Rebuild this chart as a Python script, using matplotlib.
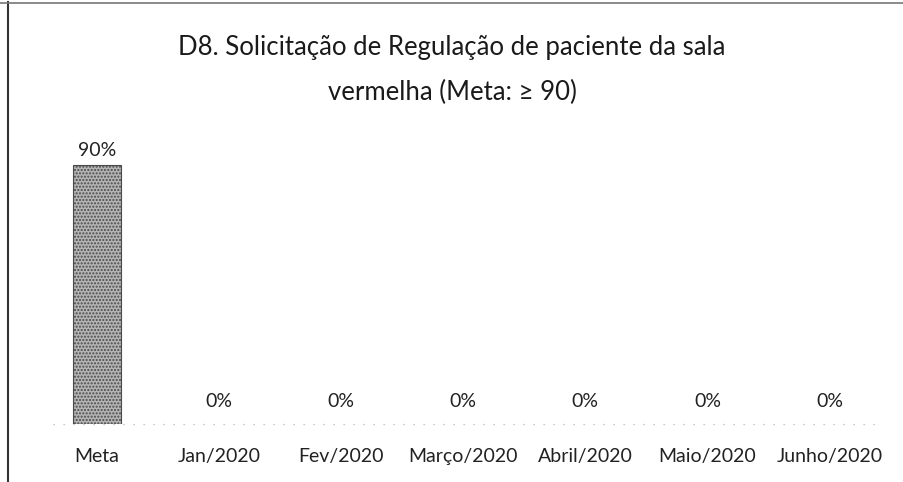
import matplotlib.pyplot as plt
from matplotlib.lines import Line2D

categories = ['Meta', 'Jan/2020', 'Fev/2020', 'Março/2020', 'Abril/2020', 'Maio/2020', 'Junho/2020']
values = [90, 0, 0, 0, 0, 0, 0]
title = 'D8. Solicitação de Regulação de paciente da sala\nvermelha (Meta: ≥ 90)'

plt.rcParams['font.family'] = ['Lato', 'DejaVu Sans']
plt.rcParams['hatch.color'] = '#8a8a8a'

fig = plt.figure(figsize=(9.04, 4.82), dpi=100)
ax = fig.add_axes([0.040, 0.120, 0.945, 0.598])

x = range(len(categories))
lw = [0.8 if v > 0 else 0 for v in values]
ax.bar(x, values, width=0.39, color='#b4b4b4', edgecolor='#4a4a4a', linewidth=lw,
       hatch='.....', zorder=2)

for i, v in enumerate(values):
    off = 4 if v > 0 else 10
    ax.annotate(f'{v}%', (i, v), xytext=(0, off), textcoords='offset points',
                ha='center', va='bottom', fontsize=14, color='#222222')

ax.set_xlim(-0.5, len(categories) - 0.5)
ax.set_ylim(0, 100)
ax.axhline(0, xmin=0.02, xmax=0.99, color='#b4b4b4', linewidth=0.9,
           linestyle=(0, (1, 7)), zorder=1, clip_on=False)
ax.set_xticks(list(x))
ax.set_xticklabels(categories, fontsize=14, color='#222222')
ax.tick_params(axis='x', length=0, pad=17)
ax.set_yticks([])
for s in ax.spines.values():
    s.set_visible(False)

fig.text(0.5, 0.855, title, ha='center', va='center', fontsize=18.5,
         color='#1a1a1a', linespacing=2.0)

# scanned frame edges
fig.add_artist(Line2D([0.009, 0.009], [0, 0.995], transform=fig.transFigure,
                      color='#333333', linewidth=1.5))
fig.add_artist(Line2D([0, 1], [0.994, 0.994], transform=fig.transFigure,
                      color='#777777', linewidth=1.2))

fig.savefig('out.png', dpi=100)
